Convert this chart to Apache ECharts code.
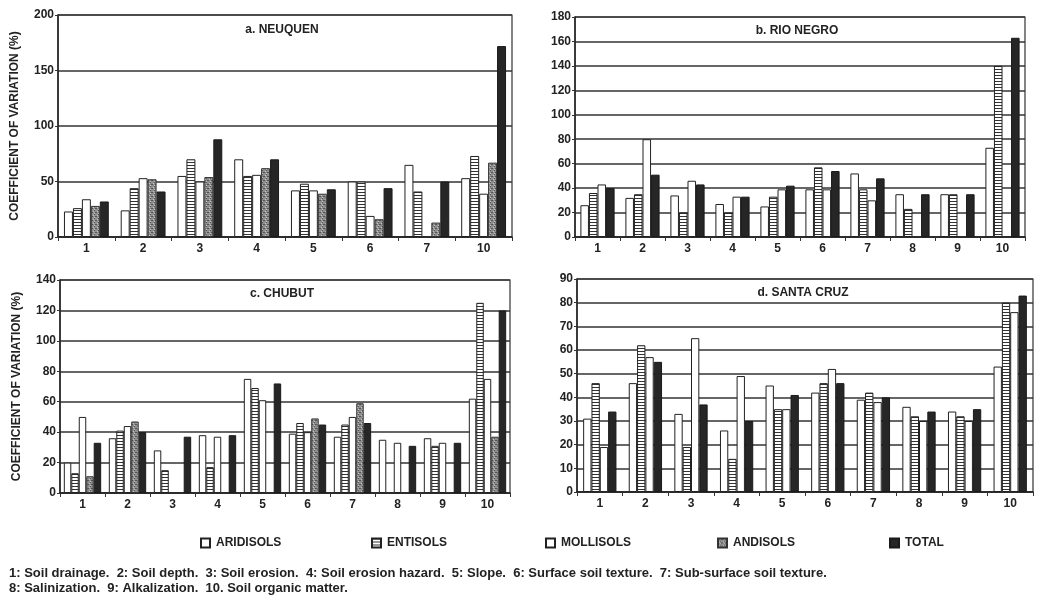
<!DOCTYPE html>
<html>
<head>
<meta charset="utf-8">
<script src="https://cdn.jsdelivr.net/npm/echarts@6/dist/echarts.min.js"></script>
<style>
  html, body { margin: 0; padding: 0; background: #fff; }
  #chart { width: 1053px; height: 603px; }
</style>
</head>
<body>
<div id="chart"></div>
<script>
// categories (soil properties)
const catsA = ['1', '2', '3', '4', '5', '6', '7', '10'];
const catsAll = ['1', '2', '3', '4', '5', '6', '7', '8', '9', '10'];

// a. Neuquen
const neuArid = [23, 24, 55, 70, 42, 50, 65, 53];
const neuEnt = [26, 44, 70, 55, 48, 50, 41, 73];
const neuMoll = [34, 53, 50, 56, 42, 19, null, 39];
const neuAnd = [28, 52, 54, 62, 39, 16, 13, 67];
const neuTotal = [32, 41, 88, 70, 43, 44, 50, 172];

// b. Rio Negro
const rioArid = [26, 32, 34, 27, 25, 39, 52, 35, 35, 73];
const rioEnt = [36, 35, 20, 20, 33, 57, 39, 23, 35, 140];
const rioMoll = [43, 80, 46, 33, 39, 39, 30, null, null, null];
const rioTotal = [40, 51, 43, 33, 42, 54, 48, 35, 35, 163];

// c. Chubut
const chuArid = [20, 36, 28, 38, 75, 39, 37, 35, 36, 62];
const chuEnt = [13, 41, 15, 17, 69, 46, 45, null, 31, 125];
const chuMoll = [50, 44, null, 37, 61, 40, 50, 33, 33, 75];
const chuAnd = [11, 47, null, null, null, 49, 59, null, null, 37];
const chuTotal = [33, 40, 37, 38, 72, 45, 46, 31, 33, 120];

// d. Santa Cruz
const scArid = [31, 46, 33, 26, 45, 42, 39, 36, 34, 53];
const scEnt = [46, 62, 19, 14, 35, 46, 42, 32, 32, 80];
const scMoll = [19, 57, 65, 49, 35, 52, 38, 30, 30, 76];
const scTotal = [34, 55, 37, 30, 41, 46, 40, 34, 35, 83];

const yMax = [200, 180, 140, 90];
const yStep = [50, 20, 20, 10];

const FONT = '"Liberation Sans", Arial, sans-serif';

// fill patterns
function stripes() {
  const c = document.createElement('canvas');
  c.width = 4; c.height = 3;
  const ctx = c.getContext('2d');
  ctx.fillStyle = '#fff'; ctx.fillRect(0, 0, 4, 3);
  ctx.fillStyle = '#333'; ctx.fillRect(0, 0, 4, 1);
  return c;
}
function stipple() {
  const c = document.createElement('canvas');
  c.width = 4; c.height = 4;
  const ctx = c.getContext('2d');
  ctx.fillStyle = '#8e8e8e'; ctx.fillRect(0, 0, 4, 4);
  ctx.fillStyle = '#555';
  ctx.fillRect(0, 0, 1, 1); ctx.fillRect(2, 2, 1, 1); ctx.fillRect(3, 0, 1, 1);
  ctx.fillStyle = '#c4c4c4';
  ctx.fillRect(1, 3, 1, 1); ctx.fillRect(2, 1, 1, 1);
  return c;
}

const styles = {
  ARIDISOLS: { color: '#fff', borderColor: '#222', borderWidth: 1 },
  ENTISOLS: { color: { image: stripes(), repeat: 'repeat' }, borderColor: '#222', borderWidth: 1 },
  MOLLISOLS: { color: '#fff', borderColor: '#222', borderWidth: 1 },
  ANDISOLS: { color: { image: stipple(), repeat: 'repeat' }, borderColor: '#333', borderWidth: 1 },
  TOTAL: { color: '#262626', borderColor: '#1a1a1a', borderWidth: 1 }
};

const grids = [
  { left: 58, top: 15, width: 454, height: 222 },
  { left: 575, top: 17, width: 450, height: 220 },
  { left: 60, top: 280, width: 450, height: 213 },
  { left: 577, top: 279, width: 456, height: 213 }
];
const catGaps = ['21%', '24%', '17%', '27%'];

const panels = [
  { ARIDISOLS: neuArid, ENTISOLS: neuEnt, MOLLISOLS: neuMoll, ANDISOLS: neuAnd, TOTAL: neuTotal },
  { ARIDISOLS: rioArid, ENTISOLS: rioEnt, MOLLISOLS: rioMoll, TOTAL: rioTotal },
  { ARIDISOLS: chuArid, ENTISOLS: chuEnt, MOLLISOLS: chuMoll, ANDISOLS: chuAnd, TOTAL: chuTotal },
  { ARIDISOLS: scArid, ENTISOLS: scEnt, MOLLISOLS: scMoll, TOTAL: scTotal }
];

const xAxes = grids.map((g, i) => ({
  type: 'category',
  gridIndex: i,
  data: i === 0 ? catsA : catsAll,
  axisLine: { lineStyle: { color: '#222', width: 1.5 } },
  axisTick: { show: true, length: 4, lineStyle: { color: '#333' } },
  axisLabel: { color: '#222', fontFamily: FONT, fontWeight: 'bold', fontSize: 12, margin: 6 }
}));

const yAxes = grids.map((g, i) => ({
  type: 'value',
  gridIndex: i,
  min: 0,
  max: yMax[i],
  interval: yStep[i],
  name: (i === 0 || i === 2) ? 'COEFFICIENT OF VARIATION (%)' : '',
  nameLocation: 'middle',
  nameGap: 37,
  nameTextStyle: { color: '#222', fontFamily: FONT, fontWeight: 'bold', fontSize: 12 },
  axisLine: { show: true, lineStyle: { color: '#222', width: 1.5 } },
  axisTick: { show: true, length: 3, lineStyle: { color: '#333' } },
  axisLabel: { color: '#222', fontFamily: FONT, fontWeight: 'bold', fontSize: 12, margin: 4 },
  splitLine: { show: true, lineStyle: { color: '#333', width: 1.6 } }
}));

const series = [];
panels.forEach((p, i) => {
  Object.keys(p).forEach(name => {
    series.push({
      name: name,
      type: 'bar',
      xAxisIndex: i,
      yAxisIndex: i,
      data: p[name],
      barGap: '0%',
      barCategoryGap: catGaps[i],
      itemStyle: styles[name],
      emphasis: { disabled: true },
      animation: false
    });
  });
});

const legendNames = ['ARIDISOLS', 'ENTISOLS', 'MOLLISOLS', 'ANDISOLS', 'TOTAL'];
const legendLeft = [195, 366, 540, 712, 884];
const legends = legendNames.map((n, i) => ({
  data: [n],
  left: legendLeft[i],
  top: 532,
  itemWidth: 9,
  itemHeight: 9,
  itemGap: 6,
  icon: 'rect',
  selectedMode: false,
  textStyle: { color: '#222', fontFamily: FONT, fontWeight: 'bold', fontSize: 12, padding: [0, 0, 0, 1] }
}));

const titles = [
  ['a. NEUQUEN', 282, 30],
  ['b. RIO NEGRO', 797, 31],
  ['c. CHUBUT', 282, 294],
  ['d. SANTA CRUZ', 803, 293]
];

const notes = [
  '1: Soil drainage.  2: Soil depth.  3: Soil erosion.  4: Soil erosion hazard.  5: Slope.  6: Surface soil texture.  7: Sub-surface soil texture.',
  '8: Salinization.  9: Alkalization.  10. Soil organic matter.'
];

const graphics = titles.map(t => ({
  type: 'text',
  x: t[1], y: t[2],
  style: {
    text: t[0], fill: '#222', align: 'center', verticalAlign: 'middle',
    font: 'bold 12px ' + FONT
  },
  z: 10
})).concat(notes.map((t, i) => ({
  type: 'text',
  x: 9, y: 573 + i * 15,
  style: {
    text: t, fill: '#222', verticalAlign: 'middle',
    font: 'bold 13px ' + FONT
  }
})));

const chart = echarts.init(document.getElementById('chart'), null, { renderer: 'canvas' });
chart.setOption({
  backgroundColor: '#fff',
  animation: false,
  grid: grids.map(g => Object.assign({ show: true, borderColor: '#333', borderWidth: 1.2, backgroundColor: 'transparent' }, g)),
  xAxis: xAxes,
  yAxis: yAxes,
  legend: legends,
  series: series,
  graphic: graphics
});
</script>
</body>
</html>
